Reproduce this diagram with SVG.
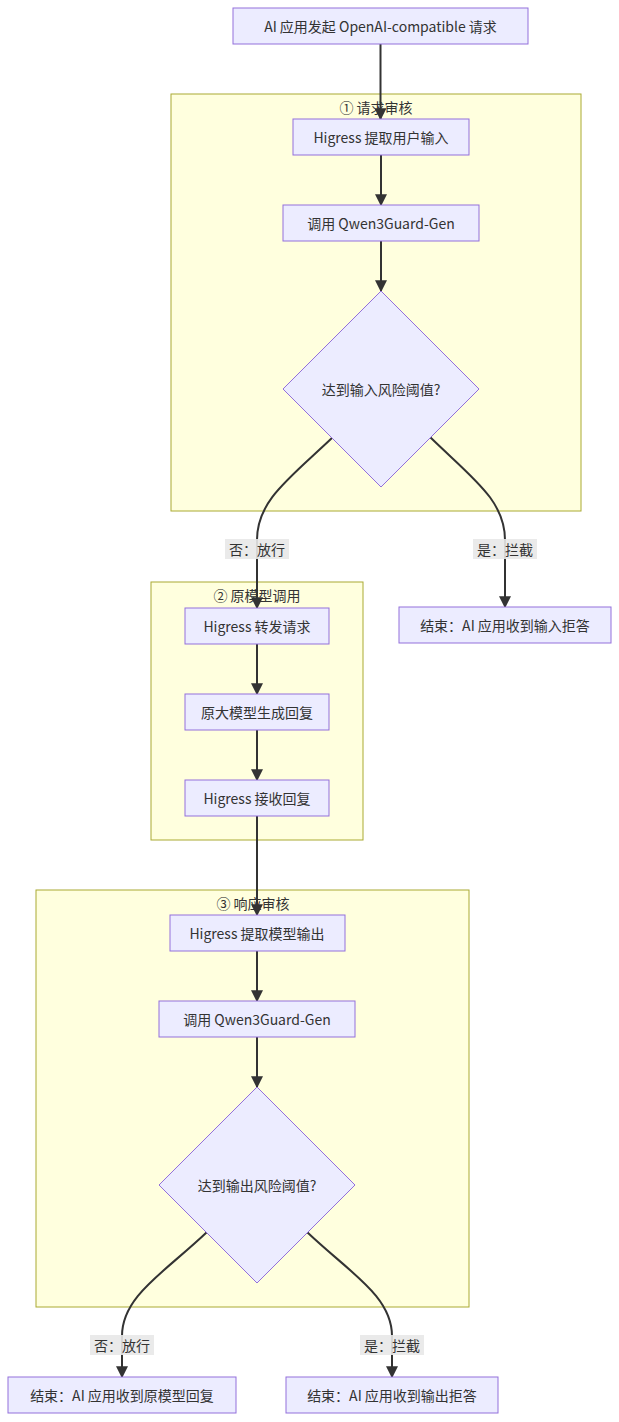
<svg xmlns="http://www.w3.org/2000/svg" width="619" height="1422" viewBox="0 0 619 1422">
<style>
text{font-family:"Noto Sans CJK SC","Noto Sans",sans-serif;font-size:14px;fill:#333;text-anchor:middle;dominant-baseline:central}
.n{fill:#ECECFF;stroke:#9370DB;stroke-width:1}
.c{fill:#FFFFDE;stroke:#AAAA33;stroke-width:1}
.e{fill:none;stroke:#333;stroke-width:2;marker-end:url(#a)}
.lb{fill:#e8e8e8;opacity:0.9}
</style>
<defs><marker id="a" viewBox="0 0 10 10" refX="9" refY="5" markerWidth="6" markerHeight="6" orient="auto"><path d="M0,0L10,5L0,10z" fill="#333"/></marker></defs>
<g id="clusters">
<rect class="c" x="171" y="94" width="410" height="417"/>
<text x="376" y="107">① 请求审核</text>
<rect class="c" x="151" y="582" width="212" height="258"/>
<text x="257" y="595">② 原模型调用</text>
<rect class="c" x="36" y="890" width="433" height="417"/>
<text x="253" y="903">③ 响应审核</text>
</g>
<g id="connectors">
<path class="e" d="M380.5,44V119"/>
<path class="e" d="M381,155V205"/>
<path class="e" d="M381,241V291"/>
<path class="e" d="M333,437C290,478 257,500 257,540V608"/>
<path class="e" d="M430,437C472,478 505,500 505,540V607"/>
<path class="e" d="M257,644V694"/>
<path class="e" d="M257,730V780"/>
<path class="e" d="M257,816V915"/>
<path class="e" d="M257,951V1001"/>
<path class="e" d="M257,1037V1087"/>
<path class="e" d="M207,1232C164,1273 122,1296 122,1336V1377"/>
<path class="e" d="M307,1232C350,1273 392,1296 392,1336V1377"/>
<rect class="lb" x="225" y="539" width="64" height="20"/><text x="257" y="549">否：放行</text>
<rect class="lb" x="473" y="539" width="64" height="20"/><text x="505" y="549">是：拦截</text>
<rect class="lb" x="90" y="1335" width="64" height="20"/><text x="122" y="1345">否：放行</text>
<rect class="lb" x="360" y="1335" width="64" height="20"/><text x="392" y="1345">是：拦截</text>
</g>
<g id="start"><rect class="n" x="233" y="8" width="295" height="36"/><text x="380.5" y="26">AI 应用发起 OpenAI-compatible 请求</text></g>
<g id="extract_in"><rect class="n" x="293" y="119" width="176" height="36"/><text x="381" y="137">Higress 提取用户输入</text></g>
<g id="guard_in"><rect class="n" x="283" y="205" width="196" height="36"/><text x="381" y="223">调用 Qwen3Guard-Gen</text></g>
<g id="dec_in"><path class="n" d="M381,291L479,389L381,487L283,389z"/><text x="381" y="389">达到输入风险阈值?</text></g>
<g id="end_in"><rect class="n" x="399" y="607" width="212" height="36"/><text x="505" y="625">结束：AI 应用收到输入拒答</text></g>
<g id="forward"><rect class="n" x="185" y="608" width="144" height="36"/><text x="257" y="626">Higress 转发请求</text></g>
<g id="gen"><rect class="n" x="185" y="694" width="144" height="36"/><text x="257" y="712">原大模型生成回复</text></g>
<g id="recv"><rect class="n" x="185" y="780" width="144" height="36"/><text x="257" y="798">Higress 接收回复</text></g>
<g id="extract_out"><rect class="n" x="170" y="915" width="175" height="36"/><text x="257" y="933">Higress 提取模型输出</text></g>
<g id="guard_out"><rect class="n" x="159" y="1001" width="196" height="36"/><text x="257" y="1019">调用 Qwen3Guard-Gen</text></g>
<g id="dec_out"><path class="n" d="M257,1087L355,1185L257,1283L159,1185z"/><text x="257" y="1185">达到输出风险阈值?</text></g>
<g id="end_ok"><rect class="n" x="8" y="1377" width="228" height="36"/><text x="122" y="1395">结束：AI 应用收到原模型回复</text></g>
<g id="end_out"><rect class="n" x="286" y="1377" width="212" height="36"/><text x="392" y="1395">结束：AI 应用收到输出拒答</text></g>
</svg>
